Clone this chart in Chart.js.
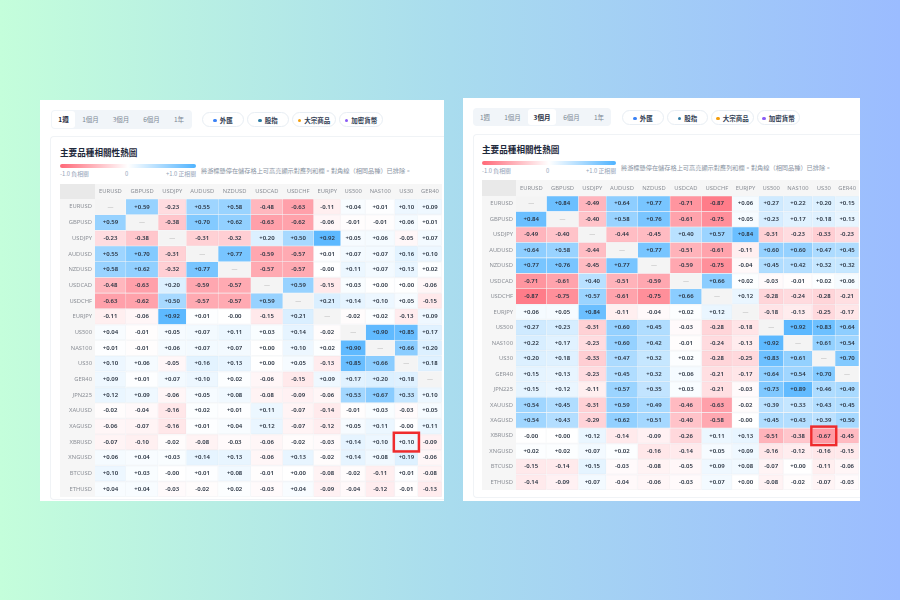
<!DOCTYPE html>
<html>
<head>
<meta charset="utf-8">
<script src="https://cdn.jsdelivr.net/npm/chart.js@4"></script>
<style>
  html, body { margin: 0; width: 900px; height: 600px; overflow: hidden; }
  body { position: relative; background: linear-gradient(90deg, #c4fedb 0%, #a9dcee 50%, #9bbcff 100%);
         font-family: "Noto Sans CJK TC", "Noto Sans", sans-serif; color: #1e293b; }
  .abs { position: absolute; white-space: nowrap; }
  .card { background: #fff; }
  .inner { background: #fff; border: 1px solid #f0f3f6; border-right: 0; border-radius: 4px 0 0 4px; box-sizing: border-box; }
  .tabs { background: #f1f5f9; border-radius: 4px; display: flex; font-size: 6.5px; color: #7b8794; line-height: 19px; text-align: center; box-sizing: border-box; }
  .tabs span { display: block; }
  .tabs .on { background: #fff; color: #1e293b; font-weight: 700; border-radius: 3px; margin: 1px 0; line-height: 17px; }
  .pill { border: 1px solid #e8eef4; border-radius: 8px; height: 15px; line-height: 14px; box-sizing: border-box; font-size: 6.5px; font-weight: 700; color: #334155; text-align: center; }
  .pill i { display: inline-block; width: 3.5px; height: 3.5px; border-radius: 50%; margin-right: 3px; vertical-align: 1px; }
  .title { font-size: 8.6px; font-weight: 700; color: #1e293b; line-height: 12px; }
  .bar { height: 4px; border-radius: 2px; background: linear-gradient(90deg, #ff6978, #fff 50%, #4fb3ff); }
  .scale { font-size: 5.8px; color: #94a3b8; line-height: 8px; }
  .desc { font-size: 6.2px; color: #8a94a3; line-height: 9px; }
  canvas { position: absolute; }
</style>
</head>
<body>
<div class="abs card" style="left:40px;top:100px;width:404px;height:401px"></div>
<div class="abs card" style="left:463px;top:98px;width:397px;height:403px"></div>
<div class="abs inner" style="left:50px;top:136px;width:394px;height:364px"></div>
<div class="abs inner" style="left:473px;top:134px;width:387px;height:364px"></div>

<div class="abs tabs" style="left:51px;top:110px;width:141px;height:19px">
  <span class="on" style="width:23px;margin-left:1px">1週</span><span style="width:31px">1個月</span><span style="width:30px">3個月</span><span style="width:31px">6個月</span><span style="width:24px">1年</span>
</div>
<div class="abs tabs" style="left:473px;top:108px;width:138px;height:18px">
  <span style="width:24px">1週</span><span style="width:31px">1個月</span><span class="on" style="width:28px">3個月</span><span style="width:31px">6個月</span><span style="width:24px">1年</span>
</div>

<div class="abs pill" style="left:202px;top:112px;width:42px"><i style="background:#3b82f6"></i>外匯</div>
<div class="abs pill" style="left:247px;top:112px;width:42px"><i style="background:#2e7da6"></i>股指</div>
<div class="abs pill" style="left:292px;top:112px;width:44px"><i style="background:#f59e0b"></i>大宗商品</div>
<div class="abs pill" style="left:339px;top:112px;width:44px"><i style="background:#8b5cf6"></i>加密貨幣</div>
<div class="abs pill" style="left:622px;top:110px;width:42px"><i style="background:#3b82f6"></i>外匯</div>
<div class="abs pill" style="left:667px;top:110px;width:41px"><i style="background:#2e7da6"></i>股指</div>
<div class="abs pill" style="left:711px;top:110px;width:43px"><i style="background:#f59e0b"></i>大宗商品</div>
<div class="abs pill" style="left:757px;top:110px;width:43px"><i style="background:#8b5cf6"></i>加密貨幣</div>

<div class="abs title" style="left:60px;top:146px">主要品種相關性熱圖</div>
<div class="abs bar" style="left:60px;top:164px;width:136px"></div>
<div class="abs scale" style="left:60px;top:170px">-1.0 負相關</div>
<div class="abs scale" style="left:125px;top:170px">0</div>
<div class="abs scale" style="left:166px;top:170px">+1.0 正相關</div>
<div class="abs desc" style="left:201px;top:166px">將游標懸停在儲存格上可高亮顯示對應列和欄。對角線（相同品種）已排除。</div>

<div class="abs title" style="left:482px;top:143px">主要品種相關性熱圖</div>
<div class="abs bar" style="left:482px;top:161px;width:134px"></div>
<div class="abs scale" style="left:482px;top:167px">-1.0 負相關</div>
<div class="abs scale" style="left:546px;top:167px">0</div>
<div class="abs scale" style="left:586px;top:167px">+1.0 正相關</div>
<div class="abs desc" style="left:621px;top:163px">將游標懸停在儲存格上可高亮顯示對應列和欄。對角線（相同品種）已排除。</div>

<canvas id="weekChart" width="382" height="313" style="left:60px;top:184px"></canvas>
<canvas id="quarterChart" width="377" height="310" style="left:482px;top:180px"></canvas>

<script>
var columns = ['EURUSD','GBPUSD','USDJPY','AUDUSD','NZDUSD','USDCAD','USDCHF','EURJPY','US500','NAS100','US30','GER40'];
var symbols = ['EURUSD','GBPUSD','USDJPY','AUDUSD','NZDUSD','USDCAD','USDCHF','EURJPY','US500','NAS100','US30','GER40','JPN225','XAUUSD','XAGUSD','XBRUSD','XNGUSD','BTCUSD','ETHUSD'];

// 1 week, -0.001 stands for the "-0.00" printed in the table
var weekEURUSD = [null,0.59,-0.23,0.55,0.58,-0.48,-0.63,-0.11,0.04,0.01,0.10,0.09];
var weekGBPUSD = [0.59,null,-0.38,0.70,0.62,-0.63,-0.62,-0.06,-0.01,-0.01,0.06,0.01];
var weekUSDJPY = [-0.23,-0.38,null,-0.31,-0.32,0.20,0.50,0.92,0.05,0.06,-0.05,0.07];
var weekAUDUSD = [0.55,0.70,-0.31,null,0.77,-0.59,-0.57,0.01,0.07,0.07,0.16,0.10];
var weekNZDUSD = [0.58,0.62,-0.32,0.77,null,-0.57,-0.57,-0.001,0.11,0.07,0.13,0.02];
var weekUSDCAD = [-0.48,-0.63,0.20,-0.59,-0.57,null,0.59,-0.15,0.03,0.00,0.00,-0.06];
var weekUSDCHF = [-0.63,-0.62,0.50,-0.57,-0.57,0.59,null,0.21,0.14,0.10,0.05,-0.15];
var weekEURJPY = [-0.11,-0.06,0.92,0.01,-0.001,-0.15,0.21,null,-0.02,0.02,-0.13,0.09];
var weekUS500  = [0.04,-0.01,0.05,0.07,0.11,0.03,0.14,-0.02,null,0.90,0.85,0.17];
var weekNAS100 = [0.01,-0.01,0.06,0.07,0.07,0.00,0.10,0.02,0.90,null,0.66,0.20];
var weekUS30   = [0.10,0.06,-0.05,0.16,0.13,0.00,0.05,-0.13,0.85,0.66,null,0.18];
var weekGER40  = [0.09,0.01,0.07,0.10,0.02,-0.06,-0.15,0.09,0.17,0.20,0.18,null];
var weekJPN225 = [0.12,0.09,-0.06,0.05,0.08,-0.08,-0.09,-0.06,0.53,0.67,0.33,0.10];
var weekXAUUSD = [-0.02,-0.04,-0.16,0.02,0.01,0.11,-0.07,-0.14,-0.01,0.03,-0.03,0.05];
var weekXAGUSD = [-0.06,-0.07,-0.16,0.01,0.04,0.12,-0.07,-0.12,0.05,0.11,-0.001,0.11];
var weekXBRUSD = [-0.07,-0.10,-0.02,-0.08,-0.03,-0.06,-0.02,-0.03,0.14,0.10,0.10,-0.09];
var weekXNGUSD = [0.06,0.04,0.03,0.14,0.13,-0.06,0.13,-0.02,0.14,0.08,0.19,-0.06];
var weekBTCUSD = [0.10,0.03,-0.001,0.01,0.08,-0.01,0.00,-0.08,-0.02,-0.11,0.01,-0.08];
var weekETHUSD = [0.04,0.04,-0.03,-0.02,0.02,-0.03,0.04,-0.09,-0.04,-0.12,-0.01,-0.13];

// 3 months
var quarterEURUSD = [null,0.84,-0.49,0.64,0.77,-0.71,-0.87,0.06,0.27,0.22,0.20,0.15];
var quarterGBPUSD = [0.84,null,-0.40,0.58,0.76,-0.61,-0.75,0.05,0.23,0.17,0.18,0.13];
var quarterUSDJPY = [-0.49,-0.40,null,-0.44,-0.45,0.40,0.57,0.84,-0.31,-0.23,-0.33,-0.23];
var quarterAUDUSD = [0.64,0.58,-0.44,null,0.77,-0.51,-0.61,-0.11,0.60,0.60,0.47,0.45];
var quarterNZDUSD = [0.77,0.76,-0.45,0.77,null,-0.59,-0.75,-0.04,0.45,0.42,0.32,0.32];
var quarterUSDCAD = [-0.71,-0.61,0.40,-0.51,-0.59,null,0.66,0.02,-0.03,-0.01,0.02,0.06];
var quarterUSDCHF = [-0.87,-0.75,0.57,-0.61,-0.75,0.66,null,0.12,-0.28,-0.24,-0.28,-0.21];
var quarterEURJPY = [0.06,0.05,0.84,-0.11,-0.04,0.02,0.12,null,-0.18,-0.13,-0.25,-0.17];
var quarterUS500  = [0.27,0.23,-0.31,0.60,0.45,-0.03,-0.28,-0.18,null,0.92,0.83,0.64];
var quarterNAS100 = [0.22,0.17,-0.23,0.60,0.42,-0.01,-0.24,-0.13,0.92,null,0.61,0.54];
var quarterUS30   = [0.20,0.18,-0.33,0.47,0.32,0.02,-0.28,-0.25,0.83,0.61,null,0.70];
var quarterGER40  = [0.15,0.13,-0.23,0.45,0.32,0.06,-0.21,-0.17,0.64,0.54,0.70,null];
var quarterJPN225 = [0.15,0.12,-0.11,0.57,0.35,0.03,-0.21,-0.03,0.73,0.89,0.46,0.49];
var quarterXAUUSD = [0.54,0.45,-0.31,0.59,0.49,-0.46,-0.63,-0.02,0.39,0.33,0.43,0.45];
var quarterXAGUSD = [0.54,0.43,-0.29,0.62,0.51,-0.40,-0.58,-0.001,0.45,0.43,0.39,0.50];
var quarterXBRUSD = [-0.001,0.00,0.12,-0.14,-0.09,-0.26,0.11,0.13,-0.51,-0.38,-0.67,-0.45];
var quarterXNGUSD = [0.02,0.02,0.07,0.02,-0.16,-0.14,0.05,0.09,-0.16,-0.12,-0.16,-0.15];
var quarterBTCUSD = [-0.15,-0.14,0.15,-0.03,-0.08,-0.05,0.09,0.08,-0.07,0.00,-0.11,-0.06];
var quarterETHUSD = [-0.14,-0.09,0.07,-0.04,-0.06,-0.03,0.07,0.00,-0.08,-0.02,-0.07,-0.03];

var weekRows = [weekEURUSD,weekGBPUSD,weekUSDJPY,weekAUDUSD,weekNZDUSD,weekUSDCAD,weekUSDCHF,weekEURJPY,weekUS500,weekNAS100,weekUS30,weekGER40,weekJPN225,weekXAUUSD,weekXAGUSD,weekXBRUSD,weekXNGUSD,weekBTCUSD,weekETHUSD];
var quarterRows = [quarterEURUSD,quarterGBPUSD,quarterUSDJPY,quarterAUDUSD,quarterNZDUSD,quarterUSDCAD,quarterUSDCHF,quarterEURJPY,quarterUS500,quarterNAS100,quarterUS30,quarterGER40,quarterJPN225,quarterXAUUSD,quarterXAGUSD,quarterXBRUSD,quarterXNGUSD,quarterBTCUSD,quarterETHUSD];

var labelFont = '"Noto Sans", sans-serif';
var headerPad = [10, 11, 9.7, 10, 11, 10.5, 10, 9.2, 9, 9.6, 10.3, 7.8];

// column widths follow the header text, like an auto sized html table
function columnEdges() {
    var ctx = document.createElement('canvas').getContext('2d');
    ctx.font = '5.6px ' + labelFont;
    var edges = [0];
    for (var i = 0; i < columns.length; i++) {
        edges.push(edges[i] + ctx.measureText(columns[i]).width + headerPad[i]);
    }
    return edges;
}

function cellColor(v) {
    if (v === null) return '#f4f4f4';
    var a = Math.abs(v);
    if (v < 0) return 'rgba(255,105,120,' + a + ')';
    return 'rgba(79,179,255,' + a + ')';
}

function cellText(v) {
    if (v === null) return '—';
    return (v >= 0 ? '+' : '') + v.toFixed(2);
}

// chart.js keeps half a label of room at the ends of an axis, a table needs none
function noPadding(scale) {
    scale.paddingTop = 0;
    scale.paddingBottom = 0;
    scale.paddingLeft = 0;
    scale.paddingRight = 0;
}

var tablePlugin = {
    id: 'table',
    beforeDraw: function(chart) {
        var c = chart.ctx, a = chart.chartArea;
        c.save();
        c.fillStyle = '#f6f6f6';
        c.fillRect(0, 0, chart.width, a.top);
        c.fillRect(0, a.top, a.left, a.bottom - a.top);
        c.fillStyle = '#e9e9e9';
        c.fillRect(0, 0, a.left, a.top);
        c.restore();
    },
    afterDatasetsDraw: function(chart, args, opts) {
        var c = chart.ctx;
        c.save();
        c.textAlign = 'center';
        c.textBaseline = 'middle';
        c.font = '600 6px ' + labelFont;
        chart.data.datasets.forEach(function(ds, col) {
            chart.getDatasetMeta(col).data.forEach(function(bar, row) {
                var v = opts.rows[row][col];
                c.fillStyle = v === null ? '#c4c4c4' : '#2a3442';
                c.fillText(cellText(v), (bar.x + bar.base) / 2, bar.y);
            });
        });
        // the cell picked out in red
        var hit = chart.getDatasetMeta(opts.focusCol).data[opts.focusRow];
        c.strokeStyle = '#ef2b2d';
        c.lineWidth = 2.5;
        c.strokeRect(hit.base - 1, hit.y - hit.height / 2 - 1.5, hit.x - hit.base + 2, hit.height + 3);
        c.restore();
    }
};

function drawTable(id, rows, focusCol, yWidth, headHeight) {
    var edges = columnEdges();
    var centers = [];
    var datasets = [];
    columns.forEach(function(name, col) {
        centers.push((edges[col] + edges[col + 1]) / 2);
        datasets.push({
            label: name,
            data: rows.map(function() { return [edges[col], edges[col + 1]]; }),
            backgroundColor: function(ctx) { return cellColor(rows[ctx.dataIndex][col]); },
            borderColor: 'rgba(240,242,245,0.45)',
            borderWidth: 0.6,
            barPercentage: 1,
            categoryPercentage: 1,
            grouped: false
        });
    });
    new Chart(document.getElementById(id).getContext('2d'), {
        type: 'bar',
        data: { labels: symbols, datasets: datasets },
        plugins: [tablePlugin],
        options: {
            indexAxis: 'y',
            responsive: false,
            animation: false,
            layout: { padding: 0 },
            plugins: {
                legend: { display: false },
                tooltip: { enabled: false },
                table: { rows: rows, focusCol: focusCol, focusRow: symbols.indexOf('XBRUSD') }
            },
            scales: {
                x: {
                    type: 'linear',
                    position: 'top',
                    min: 0,
                    max: edges[edges.length - 1],
                    grid: { display: false, drawTicks: false },
                    border: { display: false },
                    afterBuildTicks: function(scale) {
                        scale.ticks = centers.map(function(v) { return { value: v }; });
                    },
                    afterFit: function(scale) { scale.height = headHeight; noPadding(scale); },
                    ticks: {
                        autoSkip: false,
                        maxRotation: 0,
                        padding: 4.5,
                        color: '#8b8f96',
                        font: { family: labelFont, size: 5.8 },
                        callback: function(v, i) { return columns[i]; }
                    }
                },
                y: {
                    grid: { display: false, drawTicks: false },
                    border: { display: false },
                    afterFit: function(scale) { scale.width = yWidth; noPadding(scale); },
                    ticks: {
                        autoSkip: false,
                        padding: 3,
                        color: '#8b8f96',
                        font: { family: labelFont, size: 5.8 }
                    }
                }
            }
        }
    });
}

drawTable('weekChart', weekRows, columns.indexOf('US30'), 35, 15);
drawTable('quarterChart', quarterRows, columns.indexOf('US30'), 34, 16);
</script>
</body>
</html>
